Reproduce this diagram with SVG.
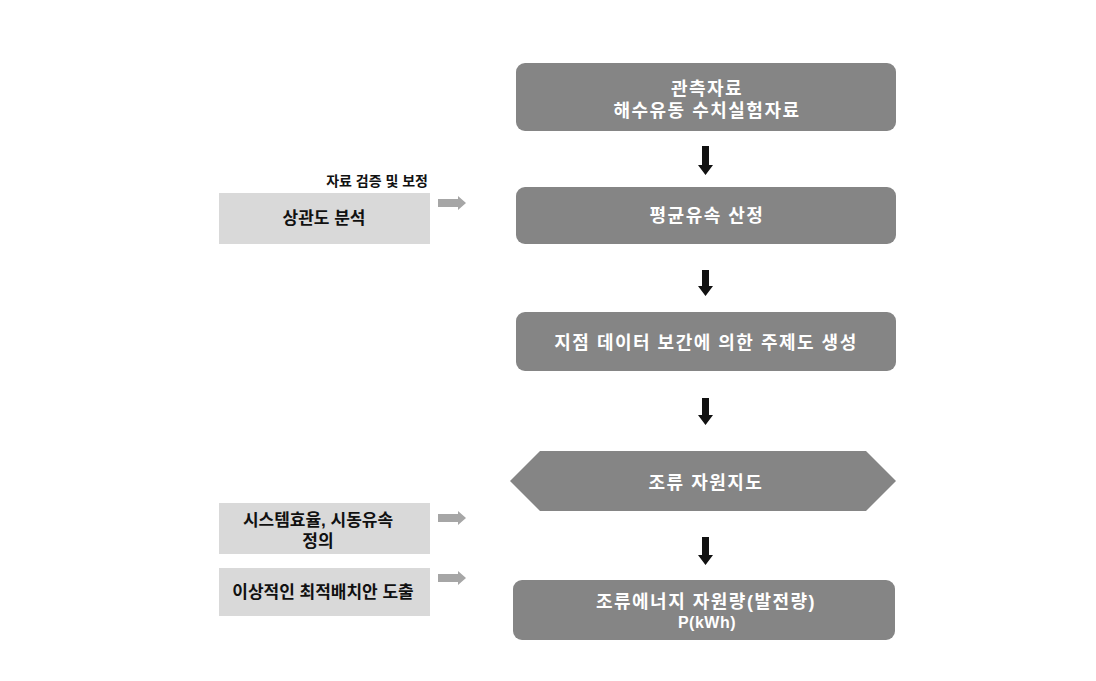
<svg xmlns="http://www.w3.org/2000/svg" width="1096" height="681" viewBox="0 0 1096 681">
<defs>
<style>
.main{fill:#858585;}
.side{fill:#d9d9d9;}
.wt{fill:#ffffff;font-family:"Liberation Sans","Noto Sans CJK KR",sans-serif;font-size:18px;font-weight:bold;text-anchor:middle;letter-spacing:1.5px;}
.bt{fill:#111111;font-family:"Liberation Sans","Noto Sans CJK KR",sans-serif;font-size:17px;font-weight:bold;text-anchor:middle;}
.sm{fill:#111111;font-family:"Liberation Sans","Noto Sans CJK KR",sans-serif;font-size:14px;font-weight:bold;text-anchor:end;}
.ba{fill:#111111;}
.ga{fill:#a6a6a6;}
</style>
</defs>
<rect width="1096" height="681" fill="#ffffff"/>
<g id="n1"><rect class="main" x="516" y="63" width="380" height="68" rx="9"/>
<text class="wt" x="707" y="95">관측자료</text>
<text class="wt" x="707" y="117">해수유동 수치실험자료</text></g>
<g id="n2"><rect class="main" x="516" y="187" width="380" height="57" rx="9"/>
<text class="wt" x="707" y="222">평균유속 산정</text></g>
<g id="n3"><rect class="main" x="516" y="312" width="380" height="59" rx="9"/>
<text class="wt" x="706" y="349">지점 데이터 보간에 의한 주제도 생성</text></g>
<g id="n4"><polygon class="main" points="540,451 866,451 896,481 866,511 540,511 510,481"/>
<text class="wt" x="706" y="489">조류 자원지도</text></g>
<g id="n5"><rect class="main" x="513" y="580" width="382" height="60" rx="9"/>
<text class="wt" x="706" y="608">조류에너지 자원량(발전량)</text>
<text class="wt" x="707" y="628" style="font-size:16px;letter-spacing:0.5px">P(kWh)</text></g>
<g id="s0"><text class="sm" x="428" y="186">자료 검증 및 보정</text></g>
<g id="s1"><rect class="side" x="219" y="193" width="211" height="51"/>
<text class="bt" x="324" y="224">상관도 분석</text></g>
<g id="s2"><rect class="side" x="219" y="503" width="211" height="51"/>
<text class="bt" x="318" y="526">시스템효율, 시동유속</text>
<text class="bt" x="318" y="547">정의</text></g>
<g id="s3"><rect class="side" x="219" y="568" width="211" height="48"/>
<text class="bt" x="323" y="598">이상적인 최적배치안 도출</text></g>
<g id="connectors">
<polygon class="ba" points="702,146 709,146 709,165 713,165 705.5,175 698,165 702,165"/>
<polygon class="ba" points="702,270 709,270 709,286 713,286 705.5,296 698,286 702,286"/>
<polygon class="ba" points="702,398 709,398 709,415 713,415 705.5,425 698,415 702,415"/>
<polygon class="ba" points="702,537 709,537 709,555 713,555 705.5,565 698,555 702,555"/>
<polygon class="ga" points="438,199 458,199 458,196 466,203 458,210 458,207 438,207"/>
<polygon class="ga" points="438,514 458,514 458,511 466,518 458,525 458,522 438,522"/>
<polygon class="ga" points="438,574 458,574 458,571 466,578 458,585 458,582 438,582"/>
</g>
</svg>
